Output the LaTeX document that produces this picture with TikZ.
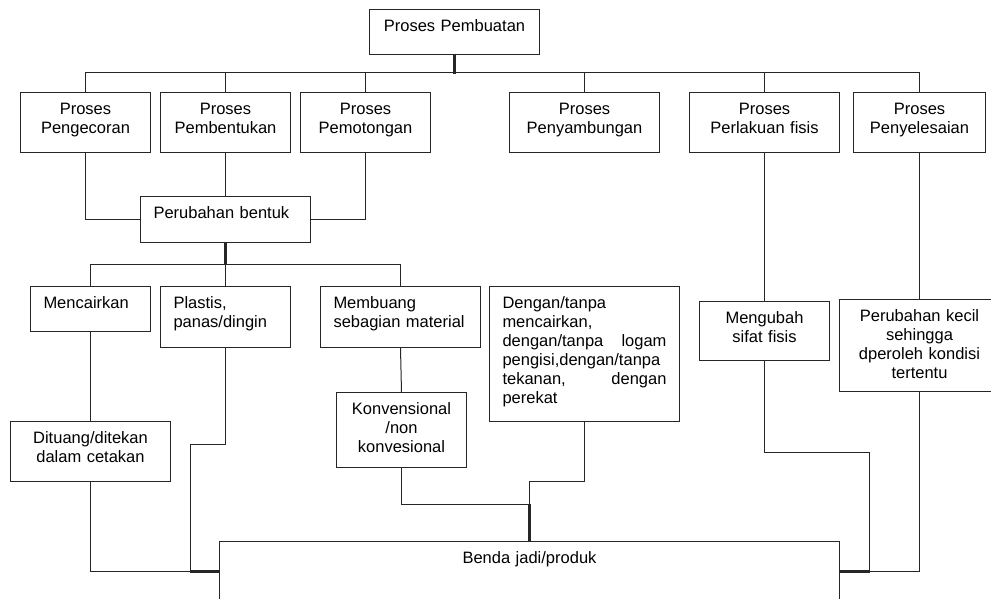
\documentclass[tikz,border=0pt]{standalone}
\usepackage{fontspec}
\setmainfont{Liberation Sans}
\usetikzlibrary{calc}

\begin{document}
\begin{tikzpicture}[x=1pt,y=-1pt,line width=1pt,black!85,
  blk/.style={draw,anchor=north west,text=black,inner ysep=0pt,text height=22pt,font=\fontsize{16.5}{19}\selectfont},
  cbox/.style 2 args={blk,inner xsep=0pt,text width=#1pt,text depth=#2pt,align=center},
  lbox/.style 2 args={blk,inner xsep=13pt,text width=#1pt,text depth=#2pt,align=left},
  stem/.style={line width=2.2pt}]
\clip (0,0) rectangle (991,599);
\node[cbox={170}{23}] (pemb) at (369,9) {Proses Pembuatan};
\node[cbox={130}{38}] (cor) at (20,92) {Proses\\Pengecoran};
\node[cbox={130}{38}] (btk) at (160,92) {Proses\\Pembentukan};
\node[cbox={130}{38}] (ptg) at (300,92) {Proses\\Pemotongan};
\node[cbox={150}{38}] (smb) at (509,92) {Proses\\Penyambungan};
\node[cbox={150}{38}] (fis) at (689,92) {Proses\\Perlakuan fisis};
\node[cbox={132}{38}] (sls) at (853,92) {Proses\\Penyelesaian};
\node[lbox={144}{24}] (ubh) at (140,196) {Perubahan bentuk};
\node[lbox={94}{23}] (cair) at (30,286) {Mencairkan};
\node[lbox={104}{39}] (pls) at (160,286) {Plastis,\\panas/dingin};
\node[lbox={134}{39}] (bng) at (320,286) {Membuang\\sebagian material};
\node[cbox={130}{53}] (knv) at (336,392) {Konvensional\\/non\\konvesional};
\node[cbox={160}{38}] (dtg) at (10,421) {Dituang/ditekan\\dalam cetakan};
\node[lbox={164}{113}] (dgn) at (489,286) {Dengan/tanpa\\mencairkan,\\dengan/tanpa\hfill logam\\pengisi,dengan/tanpa\\tekanan,\hfill dengan\\perekat};
\node[cbox={130}{37}] (mgb) at (699,301) {Mengubah\\sifat fisis};
\node[cbox={160}{70}] (kcl) at (839,299) {Perubahan kecil\\sehingga\\dperoleh kondisi\\tertentu};
\node[cbox={620}{38}] (bnd) at (219,541) {Benda jadi/produk};

\draw[stem] (pemb.south) -- ++(0,19);
\draw (cor.north) -- ++(0,-19) -| (sls.north);
\foreach \n in {btk,ptg,smb,fis}
  \draw (\n.north) -- ++(0,-19);
\draw (cor.south) |- (ubh.west);
\draw (ptg.south) |- (ubh.east);
\draw (btk.south) -- (ubh.north);
\draw[stem] (ubh.south) -- ++(0,22);
\draw (cair.north) -- ++(0,-22) -| (bng.north);
\draw (pls.north) -- ++(0,-22);
\draw (cair.south) -- (dtg.north);
\draw (dtg.south) |- (bnd.west);
\draw (pls.south) |- ++(-35,96) |- (bnd.west);
\draw[stem] (bnd.west) -- ++(-29,0);
\draw (bng.south) -- (knv.north);
\draw (knv.south) |- ($(bnd.north)+(0,-37)$);
\draw (dgn.south) |- ($(bnd.north)+(0,-60)$) -- (bnd.north);
\draw[stem] (bnd.north) -- ++(0,-37);
\draw (fis.south) -- (mgb.north);
\draw (mgb.south) |- ++(105,91) |- (bnd.east);
\draw (sls.south) -- (kcl.north);
\draw (kcl.south) |- (bnd.east);
\draw[stem] (bnd.east) -- ++(30,0);
\end{tikzpicture}
\end{document}
